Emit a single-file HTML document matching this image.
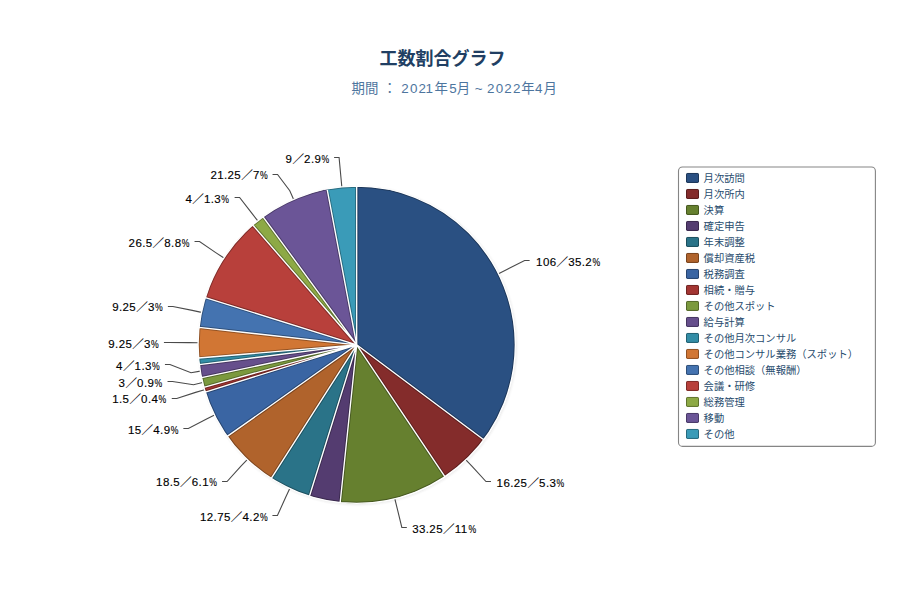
<!DOCTYPE html>
<html lang="ja">
<head>
<meta charset="utf-8">
<title>工数割合グラフ</title>
<style>
html,body{margin:0;padding:0;background:#ffffff;}
body{width:900px;height:600px;overflow:hidden;font-family:"Liberation Sans","Noto Sans CJK JP",sans-serif;}
svg text{font-family:"Liberation Sans","Noto Sans CJK JP",sans-serif;}
</style>
</head>
<body>
<svg width="900" height="600" viewBox="0 0 900 600" font-family="'Liberation Sans', 'Noto Sans CJK JP', sans-serif" style="display:block">
<rect width="900" height="600" fill="#ffffff"/>
<g id="title"><text x="442.6" y="65" font-size="18" font-weight="bold" text-anchor="middle" fill="#213f63">工数割合グラフ</text></g>
<g id="subtitle"><text y="92.50" font-size="13.40" fill="#4d759e" xml:space="preserve"><tspan x="351.39">期</tspan><tspan x="365.01">間</tspan> <tspan x="383.00">：</tspan> <tspan x="401.37" dy="0.00">2</tspan><tspan x="409.97" dy="0.00">0</tspan><tspan x="418.62" dy="0.00">2</tspan><tspan x="425.39" dy="0.00">1</tspan><tspan x="434.49">年</tspan><tspan x="449.29" dy="0.00">5</tspan><tspan x="456.70">月</tspan> <tspan x="474.74" dy="0.00">~</tspan> <tspan x="487.12" dy="0.00">2</tspan><tspan x="495.87" dy="0.00">0</tspan><tspan x="504.27" dy="0.00">2</tspan><tspan x="512.97" dy="0.00">2</tspan><tspan x="521.14">年</tspan><tspan x="535.12" dy="0.00">4</tspan><tspan x="543.40">月</tspan></text></g>
<g id="connectors" fill="none" stroke="#4a4a4a" stroke-width="1.1">
<path d="M529.61 260.50L524.61 260.50L506.90 269.55L498.50 273.76"/>
<path d="M490.98 481.50L485.98 481.50L472.35 466.65L465.88 459.83"/>
<path d="M406.83 527.50L401.83 527.50L397.07 507.88L394.81 498.75"/>
<path d="M272.43 515.50L277.43 515.50L285.79 497.10L289.76 488.58"/>
<path d="M222.06 481.50L227.06 481.50L240.73 466.35L247.22 459.55"/>
<path d="M183.36 428.50L188.36 428.50L206.11 419.27L214.53 415.10"/>
<path d="M171.74 398.50L176.74 398.50L195.57 392.36L204.59 389.70"/>
<path d="M167.52 381.50L172.52 381.50L193.52 384.74L202.65 382.51"/>
<path d="M164.94 364.50L169.94 364.50L191.04 372.72L200.31 371.16"/>
<path d="M163.92 342.50L168.92 342.50L188.71 342.61L198.11 342.73"/>
<path d="M167.88 306.50L172.88 306.50L192.26 310.41L201.46 312.34"/>
<path d="M194.54 241.50L199.54 241.50L216.11 252.84L223.97 257.98"/>
<path d="M234.61 197.50L239.61 197.50L251.95 213.45L257.81 220.80"/>
<path d="M272.54 174.50L277.54 174.50L289.79 190.70L293.53 199.32"/>
<path d="M334.09 157.50L339.09 157.50L340.94 177.54L341.82 186.90"/>
</g>
<g id="pie-shadow" fill="none" stroke="#000" transform="translate(1 1)">
<circle cx="356.7" cy="344.8" r="158.6" stroke-width="5" stroke-opacity="0.01"/>
<circle cx="356.7" cy="344.8" r="158.6" stroke-width="3" stroke-opacity="0.02"/>
<circle cx="356.7" cy="344.8" r="158.6" stroke-width="1" stroke-opacity="0.03"/>
</g>
<g id="pie" stroke="none">
<path d="M356.70 344.80L356.70 186.20A158.60 158.60 0 0 1 483.73 439.76Z" fill="#2a5082"/>
<path d="M356.70 344.80L483.73 439.76A158.60 158.60 0 0 1 444.90 476.61Z" fill="#842c2b"/>
<path d="M356.70 344.80L444.90 476.61A158.60 158.60 0 0 1 340.18 502.54Z" fill="#66802f"/>
<path d="M356.70 344.80L340.18 502.54A158.60 158.60 0 0 1 309.42 496.19Z" fill="#543c70"/>
<path d="M356.70 344.80L309.42 496.19A158.60 158.60 0 0 1 271.27 478.43Z" fill="#2a7388"/>
<path d="M356.70 344.80L271.27 478.43A158.60 158.60 0 0 1 227.23 436.41Z" fill="#b0632c"/>
<path d="M356.70 344.80L227.23 436.41A158.60 158.60 0 0 1 205.31 392.08Z" fill="#3a65a3"/>
<path d="M356.70 344.80L205.31 392.08A158.60 158.60 0 0 1 203.90 387.31Z" fill="#a33532"/>
<path d="M356.70 344.80L203.90 387.31A158.60 158.60 0 0 1 201.54 377.67Z" fill="#7b993e"/>
<path d="M356.70 344.80L201.54 377.67A158.60 158.60 0 0 1 199.34 364.61Z" fill="#664f8c"/>
<path d="M356.70 344.80L199.34 364.61A158.60 158.60 0 0 1 198.65 358.03Z" fill="#338da6"/>
<path d="M356.70 344.80L198.65 358.03A158.60 158.60 0 0 1 199.05 327.45Z" fill="#d17634"/>
<path d="M356.70 344.80L199.05 327.45A158.60 158.60 0 0 1 205.31 297.52Z" fill="#4473b0"/>
<path d="M356.70 344.80L205.31 297.52A158.60 158.60 0 0 1 252.73 225.04Z" fill="#b8403b"/>
<path d="M356.70 344.80L252.73 225.04A158.60 158.60 0 0 1 263.08 216.78Z" fill="#8da945"/>
<path d="M356.70 344.80L263.08 216.78A158.60 158.60 0 0 1 327.08 188.99Z" fill="#6b5597"/>
<path d="M356.70 344.80L327.08 188.99A158.60 158.60 0 0 1 356.70 186.20Z" fill="#3a9bb8"/>
</g>
<clipPath id="pc"><circle cx="356.70" cy="344.80" r="158.60"/></clipPath>
<path d="M356.70 344.80L356.70 186.20M356.70 344.80L483.73 439.76M356.70 344.80L444.90 476.61M356.70 344.80L340.18 502.54M356.70 344.80L309.42 496.19M356.70 344.80L271.27 478.43M356.70 344.80L227.23 436.41M356.70 344.80L205.31 392.08M356.70 344.80L203.90 387.31M356.70 344.80L201.54 377.67M356.70 344.80L199.34 364.61M356.70 344.80L198.65 358.03M356.70 344.80L199.05 327.45M356.70 344.80L205.31 297.52M356.70 344.80L252.73 225.04M356.70 344.80L263.08 216.78M356.70 344.80L327.08 188.99M356.70 186.20A158.60 158.60 0 1 1 356.70 503.40A158.60 158.60 0 1 1 356.70 186.20Z" clip-path="url(#pc)" fill="none" stroke="#000" stroke-opacity="0.3" stroke-width="3.3"/>
<path d="M356.70 344.80L356.70 186.20M356.70 344.80L483.73 439.76M356.70 344.80L444.90 476.61M356.70 344.80L340.18 502.54M356.70 344.80L309.42 496.19M356.70 344.80L271.27 478.43M356.70 344.80L227.23 436.41M356.70 344.80L205.31 392.08M356.70 344.80L203.90 387.31M356.70 344.80L201.54 377.67M356.70 344.80L199.34 364.61M356.70 344.80L198.65 358.03M356.70 344.80L199.05 327.45M356.70 344.80L205.31 297.52M356.70 344.80L252.73 225.04M356.70 344.80L263.08 216.78M356.70 344.80L327.08 188.99M356.70 186.20A158.60 158.60 0 1 1 356.70 503.40A158.60 158.60 0 1 1 356.70 186.20Z" fill="none" stroke="#ffffff" stroke-width="1.35" stroke-linecap="round" stroke-linejoin="round"/>
<g id="labels" font-size="11.5" fill="#000000" stroke="#000000" stroke-width="0.14" letter-spacing="0.40">
<text y="265.60"><tspan x="536.10">106</tspan><tspan x="556.50" letter-spacing="0">／</tspan><tspan x="568.20">35.2</tspan><tspan x="592.40" letter-spacing="0" textLength="7.7" lengthAdjust="spacingAndGlyphs">%</tspan></text>
<text y="486.60"><tspan x="496.60">16.25</tspan><tspan x="527.40" letter-spacing="0">／</tspan><tspan x="539.10">5.3</tspan><tspan x="556.50" letter-spacing="0" textLength="7.7" lengthAdjust="spacingAndGlyphs">%</tspan></text>
<text y="533.00"><tspan x="412.20">33.25</tspan><tspan x="443.00" letter-spacing="0">／</tspan><tspan x="454.70">11</tspan><tspan x="468.50" letter-spacing="0" textLength="7.7" lengthAdjust="spacingAndGlyphs">%</tspan></text>
<text y="521.00"><tspan x="200.00">12.75</tspan><tspan x="230.80" letter-spacing="0">／</tspan><tspan x="242.50">4.2</tspan><tspan x="259.90" letter-spacing="0" textLength="7.7" lengthAdjust="spacingAndGlyphs">%</tspan></text>
<text y="485.90"><tspan x="156.10">18.5</tspan><tspan x="180.10" letter-spacing="0">／</tspan><tspan x="191.80">6.1</tspan><tspan x="209.20" letter-spacing="0" textLength="7.7" lengthAdjust="spacingAndGlyphs">%</tspan></text>
<text y="433.90"><tspan x="128.00">15</tspan><tspan x="141.60" letter-spacing="0">／</tspan><tspan x="153.30">4.9</tspan><tspan x="170.70" letter-spacing="0" textLength="7.7" lengthAdjust="spacingAndGlyphs">%</tspan></text>
<text y="403.30"><tspan x="112.20">1.5</tspan><tspan x="129.40" letter-spacing="0">／</tspan><tspan x="141.10">0.4</tspan><tspan x="158.50" letter-spacing="0" textLength="7.7" lengthAdjust="spacingAndGlyphs">%</tspan></text>
<text y="387.00"><tspan x="118.60">3</tspan><tspan x="125.40" letter-spacing="0">／</tspan><tspan x="137.10">0.9</tspan><tspan x="154.50" letter-spacing="0" textLength="7.7" lengthAdjust="spacingAndGlyphs">%</tspan></text>
<text y="370.00"><tspan x="116.10">4</tspan><tspan x="122.90" letter-spacing="0">／</tspan><tspan x="134.60">1.3</tspan><tspan x="152.00" letter-spacing="0" textLength="7.7" lengthAdjust="spacingAndGlyphs">%</tspan></text>
<text y="347.50"><tspan x="108.30">9.25</tspan><tspan x="132.30" letter-spacing="0">／</tspan><tspan x="144.00">3</tspan><tspan x="151.00" letter-spacing="0" textLength="7.7" lengthAdjust="spacingAndGlyphs">%</tspan></text>
<text y="311.00"><tspan x="112.20">9.25</tspan><tspan x="136.20" letter-spacing="0">／</tspan><tspan x="147.90">3</tspan><tspan x="154.90" letter-spacing="0" textLength="7.7" lengthAdjust="spacingAndGlyphs">%</tspan></text>
<text y="247.00"><tspan x="128.60">26.5</tspan><tspan x="152.60" letter-spacing="0">／</tspan><tspan x="164.30">8.8</tspan><tspan x="181.70" letter-spacing="0" textLength="7.7" lengthAdjust="spacingAndGlyphs">%</tspan></text>
<text y="203.00"><tspan x="185.40">4</tspan><tspan x="192.20" letter-spacing="0">／</tspan><tspan x="203.90">1.3</tspan><tspan x="221.30" letter-spacing="0" textLength="7.7" lengthAdjust="spacingAndGlyphs">%</tspan></text>
<text y="179.40"><tspan x="210.40">21.25</tspan><tspan x="241.20" letter-spacing="0">／</tspan><tspan x="252.90">7</tspan><tspan x="259.90" letter-spacing="0" textLength="7.7" lengthAdjust="spacingAndGlyphs">%</tspan></text>
<text y="162.80"><tspan x="285.60">9</tspan><tspan x="292.40" letter-spacing="0">／</tspan><tspan x="304.10">2.9</tspan><tspan x="321.50" letter-spacing="0" textLength="7.7" lengthAdjust="spacingAndGlyphs">%</tspan></text>
</g>
<g id="legend">
<rect x="678.5" y="167" width="196.9" height="279.4" rx="4" ry="4" fill="#ffffff" stroke="#858585" stroke-width="1.1"/>
<rect x="686" y="172.9" width="13" height="10" rx="1.6" ry="1.6" fill="#2a5082"/><rect x="686.5" y="173.4" width="12" height="9" rx="1.1" ry="1.1" fill="none" stroke="#000" stroke-opacity="0.32"/>
<text x="703.6" y="181.8" font-size="10.3" fill="#274b6d">月次訪問</text>
<rect x="686" y="188.9" width="13" height="10" rx="1.6" ry="1.6" fill="#842c2b"/><rect x="686.5" y="189.4" width="12" height="9" rx="1.1" ry="1.1" fill="none" stroke="#000" stroke-opacity="0.32"/>
<text x="703.6" y="197.8" font-size="10.3" fill="#274b6d">月次所内</text>
<rect x="686" y="204.9" width="13" height="10" rx="1.6" ry="1.6" fill="#66802f"/><rect x="686.5" y="205.4" width="12" height="9" rx="1.1" ry="1.1" fill="none" stroke="#000" stroke-opacity="0.32"/>
<text x="703.6" y="213.8" font-size="10.3" fill="#274b6d">決算</text>
<rect x="686" y="220.9" width="13" height="10" rx="1.6" ry="1.6" fill="#543c70"/><rect x="686.5" y="221.4" width="12" height="9" rx="1.1" ry="1.1" fill="none" stroke="#000" stroke-opacity="0.32"/>
<text x="703.6" y="229.8" font-size="10.3" fill="#274b6d">確定申告</text>
<rect x="686" y="236.9" width="13" height="10" rx="1.6" ry="1.6" fill="#2a7388"/><rect x="686.5" y="237.4" width="12" height="9" rx="1.1" ry="1.1" fill="none" stroke="#000" stroke-opacity="0.32"/>
<text x="703.6" y="245.8" font-size="10.3" fill="#274b6d">年末調整</text>
<rect x="686" y="252.9" width="13" height="10" rx="1.6" ry="1.6" fill="#b0632c"/><rect x="686.5" y="253.4" width="12" height="9" rx="1.1" ry="1.1" fill="none" stroke="#000" stroke-opacity="0.32"/>
<text x="703.6" y="261.8" font-size="10.3" fill="#274b6d">償却資産税</text>
<rect x="686" y="268.9" width="13" height="10" rx="1.6" ry="1.6" fill="#3a65a3"/><rect x="686.5" y="269.4" width="12" height="9" rx="1.1" ry="1.1" fill="none" stroke="#000" stroke-opacity="0.32"/>
<text x="703.6" y="277.8" font-size="10.3" fill="#274b6d">税務調査</text>
<rect x="686" y="284.9" width="13" height="10" rx="1.6" ry="1.6" fill="#a33532"/><rect x="686.5" y="285.4" width="12" height="9" rx="1.1" ry="1.1" fill="none" stroke="#000" stroke-opacity="0.32"/>
<text x="703.6" y="293.8" font-size="10.3" fill="#274b6d">相続・贈与</text>
<rect x="686" y="300.9" width="13" height="10" rx="1.6" ry="1.6" fill="#7b993e"/><rect x="686.5" y="301.4" width="12" height="9" rx="1.1" ry="1.1" fill="none" stroke="#000" stroke-opacity="0.32"/>
<text x="703.6" y="309.8" font-size="10.3" fill="#274b6d">その他スポット</text>
<rect x="686" y="316.9" width="13" height="10" rx="1.6" ry="1.6" fill="#664f8c"/><rect x="686.5" y="317.4" width="12" height="9" rx="1.1" ry="1.1" fill="none" stroke="#000" stroke-opacity="0.32"/>
<text x="703.6" y="325.8" font-size="10.3" fill="#274b6d">給与計算</text>
<rect x="686" y="332.9" width="13" height="10" rx="1.6" ry="1.6" fill="#338da6"/><rect x="686.5" y="333.4" width="12" height="9" rx="1.1" ry="1.1" fill="none" stroke="#000" stroke-opacity="0.32"/>
<text x="703.6" y="341.8" font-size="10.3" fill="#274b6d">その他月次コンサル</text>
<rect x="686" y="348.9" width="13" height="10" rx="1.6" ry="1.6" fill="#d17634"/><rect x="686.5" y="349.4" width="12" height="9" rx="1.1" ry="1.1" fill="none" stroke="#000" stroke-opacity="0.32"/>
<text x="703.6" y="357.8" font-size="10.3" fill="#274b6d">その他コンサル業務（スポット）</text>
<rect x="686" y="364.9" width="13" height="10" rx="1.6" ry="1.6" fill="#4473b0"/><rect x="686.5" y="365.4" width="12" height="9" rx="1.1" ry="1.1" fill="none" stroke="#000" stroke-opacity="0.32"/>
<text x="703.6" y="373.8" font-size="10.3" fill="#274b6d">その他相談（無報酬）</text>
<rect x="686" y="380.9" width="13" height="10" rx="1.6" ry="1.6" fill="#b8403b"/><rect x="686.5" y="381.4" width="12" height="9" rx="1.1" ry="1.1" fill="none" stroke="#000" stroke-opacity="0.32"/>
<text x="703.6" y="389.8" font-size="10.3" fill="#274b6d">会議・研修</text>
<rect x="686" y="396.9" width="13" height="10" rx="1.6" ry="1.6" fill="#8da945"/><rect x="686.5" y="397.4" width="12" height="9" rx="1.1" ry="1.1" fill="none" stroke="#000" stroke-opacity="0.32"/>
<text x="703.6" y="405.8" font-size="10.3" fill="#274b6d">総務管理</text>
<rect x="686" y="412.9" width="13" height="10" rx="1.6" ry="1.6" fill="#6b5597"/><rect x="686.5" y="413.4" width="12" height="9" rx="1.1" ry="1.1" fill="none" stroke="#000" stroke-opacity="0.32"/>
<text x="703.6" y="421.8" font-size="10.3" fill="#274b6d">移動</text>
<rect x="686" y="428.9" width="13" height="10" rx="1.6" ry="1.6" fill="#3a9bb8"/><rect x="686.5" y="429.4" width="12" height="9" rx="1.1" ry="1.1" fill="none" stroke="#000" stroke-opacity="0.32"/>
<text x="703.6" y="437.8" font-size="10.3" fill="#274b6d">その他</text>
</g>
</svg>
</body>
</html>
